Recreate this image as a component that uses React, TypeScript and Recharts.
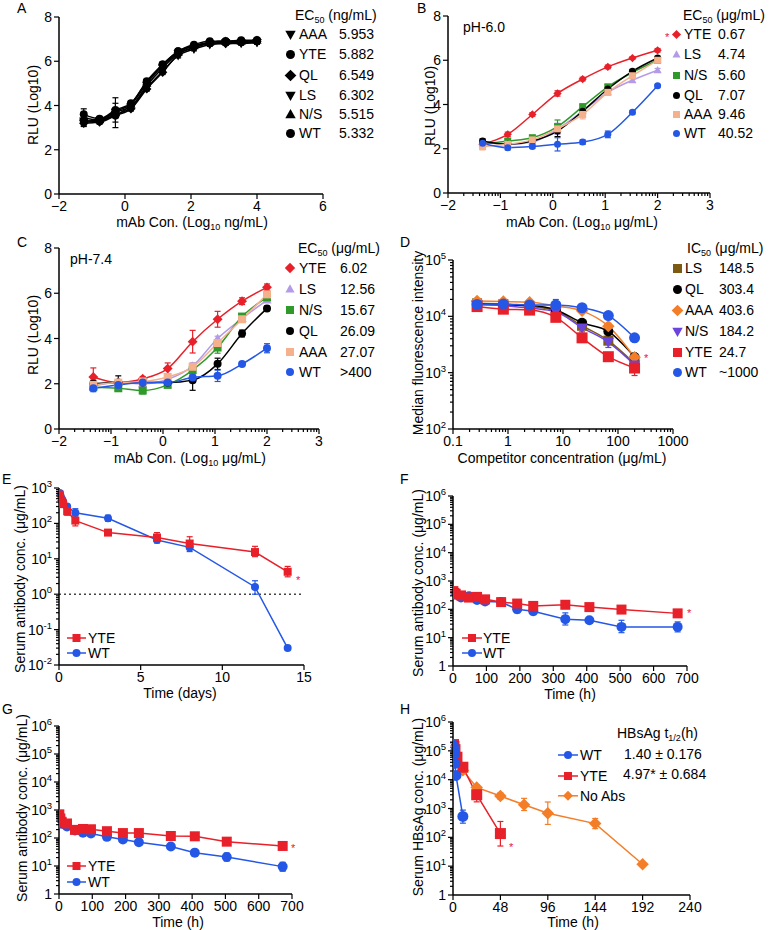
import React from "react";
import { ComposedChart, Line, XAxis, YAxis, ErrorBar, ReferenceLine } from "recharts";

const FONT = '"Liberation Sans", Arial, Helvetica, sans-serif';
const TS = 5;
const TM = 3;
const Y_W = 40;
const X_H = 25;

const RED = "#e8202a";
const BLUE = "#2457e6";
const GREEN = "#2f9a2a";
const LAVENDER = "#b39be8";
const PEACH = "#f5b08c";
const BLACK = "#000000";
const BROWN = "#7d5a12";
const PURPLE = "#6a44dd";
const ORANGE = "#f47d28";

// ---- A: RLU vs mAb conc (ng/mL) ----
const A_X = [-1.25, -0.77, -0.29, 0.18, 0.66, 1.14, 1.61, 2.09, 2.57, 3.05, 3.52, 4.0];
const A_AAA = [3.25, 3.3, 3.6, 3.9, 4.8, 5.55, 6.25, 6.55, 6.75, 6.8, 6.8, 6.85];
const A_YTE = [3.6, 3.4, 3.8, 4.1, 5.05, 5.85, 6.45, 6.75, 6.9, 6.9, 6.95, 6.95];
const A_QL = [3.2, 3.25, 3.55, 3.85, 4.75, 5.5, 6.3, 6.65, 6.8, 6.8, 6.85, 6.9];
const A_LS = [3.3, 3.3, 3.7, 3.95, 4.9, 5.7, 6.35, 6.6, 6.8, 6.85, 6.85, 6.85];
const A_NS = [3.45, 3.35, 3.75, 4.05, 5.0, 5.8, 6.4, 6.7, 6.85, 6.9, 6.9, 6.95];
const A_WT = [3.3, 3.35, 3.55, 4.05, 5.1, 5.85, 6.45, 6.7, 6.85, 6.9, 6.9, 6.95];
const A_ERR = [0.12, 0.1, 0.1, 0.1, 0.1, 0.1, 0.1, 0.08, 0.08, 0.08, 0.08, 0.08];
const A_ERR_BIG = [0.25, 0.1, 0.55, 0.12, 0.1, 0.1, 0.1, 0.08, 0.08, 0.08, 0.08, 0.08];
const A_EC50 = ["5.953", "5.882", "6.549", "6.302", "5.515", "5.332"];

// ---- B: pH 6.0 ----
const BC_X = [-1.34, -0.86, -0.39, 0.09, 0.57, 1.05, 1.52, 2.0];
const B_YTE = [2.2, 2.65, 3.55, 4.5, 5.15, 5.7, 6.1, 6.45];
const B_LS = [2.3, 2.2, 2.3, 2.9, 3.7, 4.55, 5.1, 5.55];
const B_NS = [2.2, 2.35, 2.5, 3.0, 3.9, 4.8, 5.45, 6.0];
const B_QL = [2.35, 2.2, 2.35, 2.8, 3.7, 4.7, 5.5, 6.1];
const B_AAA = [2.1, 2.2, 2.4, 2.9, 3.55, 4.55, 5.3, 6.0];
const B_WT = [2.25, 2.05, 2.1, 2.2, 2.3, 2.65, 3.65, 4.85];
const B_E_YTE = [0.08, 0.1, 0.08, 0.12, 0.08, 0.08, 0.06, 0.08];
const B_E_LS = [0.1, 0.08, 0.1, 0.25, 0.15, 0.1, 0.1, 0.08];
const B_E_NS = [0.1, 0.08, 0.08, 0.3, 0.12, 0.1, 0.08, 0.08];
const B_E_QL = [0.1, 0.08, 0.08, 0.25, 0.1, 0.08, 0.08, 0.08];
const B_E_AAA = [0.15, 0.1, 0.1, 0.2, 0.2, 0.12, 0.1, 0.1];
const B_E_WT = [0.1, 0.1, 0.08, 0.3, 0.1, 0.15, 0.08, 0.06];
const B_EC50 = ["0.67", "4.74", "5.60", "7.07", "9.46", "40.52"];

// ---- C: pH 7.4 ----
const C_YTE = [2.3, 2.05, 2.22, 2.67, 3.86, 4.85, 5.65, 6.26];
const C_LS = [1.9, 2.05, 2.0, 2.2, 2.78, 4.0, 4.88, 5.7];
const C_NS = [1.85, 1.8, 1.7, 1.95, 2.6, 3.6, 4.97, 5.82];
const C_QL = [2.0, 2.05, 2.05, 2.05, 2.16, 2.88, 4.22, 5.33];
const C_AAA = [1.95, 2.05, 2.1, 2.3, 2.75, 3.8, 4.85, 5.95];
const C_WT = [1.8, 1.95, 2.05, 2.05, 2.28, 2.35, 2.87, 3.57];
const C_E_YTE = [0.4, 0.1, 0.1, 0.25, 0.5, 0.35, 0.15, 0.15];
const C_E_LS = [0.1, 0.1, 0.1, 0.1, 0.15, 0.1, 0.1, 0.1];
const C_E_NS = [0.1, 0.1, 0.15, 0.12, 0.15, 0.25, 0.1, 0.15];
const C_E_QL = [0.15, 0.3, 0.1, 0.1, 0.45, 0.25, 0.15, 0.1];
const C_E_AAA = [0.1, 0.1, 0.1, 0.1, 0.15, 0.1, 0.1, 0.1];
const C_E_WT = [0.15, 0.2, 0.1, 0.1, 0.15, 0.25, 0.08, 0.2];
const C_EC50 = ["6.02", "12.56", "15.67", "26.09", "27.07", ">400"];

// ---- D: competition ----
const D_X = [0.274, 0.823, 2.47, 7.41, 22.2, 66.7, 200];
const D_LS = [17000, 16500, 15000, 12500, 6800, 3700, 1450];
const D_QL = [16500, 16000, 15500, 13000, 7700, 5400, 1900];
const D_AAA = [18700, 18300, 17800, 15300, 12500, 6700, 1870];
const D_NS = [16000, 15500, 14000, 12000, 6300, 3500, 1380];
const D_YTE = [14900, 13400, 12900, 9600, 4150, 1920, 1210];
const D_WT = [16300, 16500, 15900, 15900, 14200, 10300, 4150];
const D_E_LS: [number, number][] = [[1500, 1500], [1500, 1500], [1500, 1500], [1500, 1500], [800, 800], [500, 500], [200, 200]];
const D_E_QL: [number, number][] = [[1000, 1000], [1000, 1000], [1000, 1000], [1000, 1000], [700, 700], [600, 600], [200, 200]];
const D_E_AAA: [number, number][] = [[1500, 1500], [1500, 1500], [1500, 1500], [1500, 1500], [1000, 1000], [800, 800], [250, 250]];
const D_E_NS: [number, number][] = [[1500, 1500], [1500, 1500], [1500, 1500], [1500, 1500], [1000, 1000], [700, 700], [200, 200]];
const D_E_YTE: [number, number][] = [[1000, 1000], [1000, 1000], [1000, 1000], [800, 800], [400, 400], [250, 250], [320, 200]];
const D_E_WT: [number, number][] = [[1500, 1500], [2500, 2500], [2500, 2500], [3000, 4000], [1500, 1500], [1000, 1000], [400, 400]];
const D_IC50 = ["148.5", "303.4", "403.6", "184.2", "24.7", "~1000"];

// ---- E: PK (days) ----
const E_T = [0.042, 0.083, 0.167, 0.25, 0.5, 1, 3, 6, 8, 12, 14];
const E_YTE = [650, 500, 420, 350, 220, 120, 55, 40, 27, 15.5, 4.3];
const E_WT = [720, 620, 500, 420, 300, 200, 140, 34, 21, 1.6, 0.03];
const E_E_YTE: [number, number][] = [[80, 80], [60, 60], [50, 50], [40, 40], [50, 50], [35, 50], [5, 5], [12, 15], [8, 15], [4, 7], [1.2, 1.8]];
const E_E_WT: [number, number][] = [[60, 60], [50, 50], [50, 50], [40, 40], [30, 30], [40, 60], [25, 30], [5, 5], [5, 5], [0.6, 0.8], [0.002, 0.002]];

// ---- F: PK (h) ----
const F_T = [1, 4, 8, 24, 48, 72, 96, 144, 192, 240, 336, 408, 504, 672];
const F_YTE = [440, 380, 355, 310, 260, 275, 225, 180, 160, 132, 145, 120, 98, 72];
const F_WT = [390, 360, 330, 260, 290, 215, 190, 180, 100, 85, 45, 41, 24, 24];
const F_E_YTE: [number, number][] = [[40, 40], [30, 30], [30, 30], [25, 25], [20, 20], [20, 20], [20, 20], [15, 15], [15, 15], [12, 12], [20, 20], [12, 12], [10, 10], [8, 8]];
const F_E_WT: [number, number][] = [[40, 40], [30, 30], [30, 30], [25, 25], [20, 20], [20, 20], [15, 15], [20, 20], [25, 25], [20, 20], [17, 30], [5, 5], [9, 17], [8, 12]];

// ---- G: PK (h) ----
const G_T = [1, 4, 8, 24, 48, 72, 96, 144, 192, 240, 336, 408, 504, 672];
const G_YTE = [700, 500, 380, 330, 195, 210, 205, 175, 150, 150, 118, 115, 74, 52];
const G_WT = [500, 400, 320, 260, 185, 155, 145, 110, 88, 70, 50, 30, 21, 9.5];
const G_E_YTE: [number, number][] = [[60, 60], [40, 40], [30, 30], [30, 30], [20, 20], [20, 20], [20, 20], [20, 20], [15, 15], [15, 15], [12, 12], [25, 25], [18, 18], [8, 8]];
const G_E_WT: [number, number][] = [[50, 50], [40, 40], [30, 30], [25, 25], [15, 15], [12, 12], [12, 12], [10, 10], [8, 8], [6, 6], [5, 5], [3, 3], [6, 8], [3, 4]];

// ---- H: HBsAg (h) ----
const H_WT_T = [0.1, 0.5, 1, 1.5, 2, 3, 10];
const H_WT = [160000, 130000, 100000, 80000, 37000, 14000, 530];
const H_E_WT: [number, number][] = [[30000, 30000], [20000, 20000], [20000, 20000], [15000, 15000], [8000, 8000], [3000, 3000], [220, 350]];
const H_YTE_T = [0.5, 1, 2, 4, 10, 24, 48];
const H_YTE = [165000, 140000, 110000, 60000, 27000, 3000, 135];
const H_E_YTE: [number, number][] = [[30000, 30000], [25000, 25000], [20000, 20000], [15000, 15000], [8000, 8000], [1300, 1800], [85, 220]];
const H_NA_T = [10, 24, 48, 72, 96, 144, 192];
const H_NA = [21000, 5400, 2700, 1350, 680, 300, 11.7];
const H_E_NA: [number, number][] = [[3000, 3000], [1200, 1200], [600, 800], [500, 900], [400, 1000], [100, 150], [1, 1]];

type Shape = "circle" | "square" | "diamond" | "tri" | "triDown";
type Err = number | [number, number];
interface Series { key: string; color: string; shape: Shape; r: number; x: number[]; y: number[]; e: Err[] }

const mk = (key: string, color: string, shape: Shape, r: number, x: number[], y: number[], e: Err[]): Series =>
  ({ key, color, shape, r, x, y, e });

const rows = (s: Series) => s.x.map((x, i) => ({ x, y: s.y[i], e: s.e[i] }));

function Marker({ shape, cx, cy, r, color }: { shape: Shape; cx: number; cy: number; r: number; color: string }) {
  if (cx == null || cy == null) return null;
  if (shape === "circle") return <circle cx={cx} cy={cy} r={r} fill={color} />;
  if (shape === "square") return <rect x={cx - r} y={cy - r} width={2 * r} height={2 * r} fill={color} />;
  if (shape === "diamond") {
    const d = r * 1.3;
    return <polygon points={`${cx},${cy - d} ${cx + d},${cy} ${cx},${cy + d} ${cx - d},${cy}`} fill={color} />;
  }
  if (shape === "tri")
    return <polygon points={`${cx},${cy - r * 1.2} ${cx + r * 1.15},${cy + r * 0.85} ${cx - r * 1.15},${cy + r * 0.85}`} fill={color} />;
  return <polygon points={`${cx},${cy + r * 1.2} ${cx + r * 1.15},${cy - r * 0.85} ${cx - r * 1.15},${cy - r * 0.85}`} fill={color} />;
}

// axis helpers
const logTicks = (lo: number, hi: number) => {
  const out: number[] = [];
  for (let p = lo; p < hi; p++) for (let k = 1; k < 10; k++) out.push(k * Math.pow(10, p));
  out.push(Math.pow(10, hi));
  return out;
};
const decades = (lo: number, hi: number) => {
  const out: number[] = [];
  for (let p = lo; p <= hi; p++) out.push(Math.pow(10, p));
  return out;
};
const log10Minor = (lo: number, hi: number) => {
  const out: number[] = [];
  for (let n = lo; n < hi; n++) for (let k = 1; k < 10; k++) out.push(n + Math.log10(k));
  out.push(hi);
  return out;
};
const near = (a: number, b: number) => Math.abs(a - b) <= Math.abs(b) * 1e-6 + 1e-9;

const num = (v: number) => (v < 0 ? "\u2212" + Math.abs(v) : String(v));
const pow10 = (v: number) => {
  const p = Math.round(Math.log10(v));
  return (
    <>
      <tspan>10</tspan>
      <tspan dy={-6} fontSize={9.5}>{p < 0 ? "-" + -p : String(p)}</tspan>
    </>
  );
};
const pow10or1 = (v: number) => (near(v, 1) ? "1" : pow10(v));

interface AxisCfg { domain: [number, number]; ticks: number[]; major: number[]; log?: boolean; fmt: (v: number) => React.ReactNode }

function XTick(props: any) {
  const { x, y, payload, cfg } = props;
  const v = payload.value;
  const big = cfg.major.some((m: number) => near(v, m));
  const ay = y - TS - TM;
  return (
    <g>
      <line x1={x} x2={x} y1={ay} y2={ay + (big ? 5 : 3)} stroke="#000" strokeWidth={1.2} />
      {big && (
        <text x={x} y={ay + 17} textAnchor="middle" fontSize={14} fontFamily={FONT} fill="#000">
          {cfg.fmt(v)}
        </text>
      )}
    </g>
  );
}

function YTick(props: any) {
  const { x, y, payload, cfg } = props;
  const v = payload.value;
  const big = cfg.major.some((m: number) => near(v, m));
  const ax = x + TS + TM;
  return (
    <g>
      <line x1={ax} x2={ax - (big ? 5 : 3)} y1={y} y2={y} stroke="#000" strokeWidth={1.2} />
      {big && (
        <text x={ax - 7} y={y} dy="0.36em" textAnchor="end" fontSize={14} fontFamily={FONT} fill="#000">
          {cfg.fmt(v)}
        </text>
      )}
    </g>
  );
}

function Plot({ box, plot, xa, ya, series, curve = "linear", refY }: {
  box: number[]; plot: number[]; xa: AxisCfg; ya: AxisCfg; series: Series[]; curve?: "linear" | "monotone"; refY?: number;
}) {
  const [bx, by, bw, bh] = box;
  const [x1, x2, y1, y2] = plot;
  const margin = { top: y1 - by, left: x1 - bx - Y_W, right: bx + bw - x2, bottom: by + bh - y2 - X_H };
  return (
    <div style={{ position: "absolute", left: bx, top: by }}>
      <ComposedChart width={bw} height={bh} margin={margin}>
        <XAxis
          type="number" dataKey="x" scale={xa.log ? "log" : "linear"} domain={xa.domain} ticks={xa.ticks}
          interval={0} allowDataOverflow height={X_H} tickSize={TS} tickMargin={TM} tickLine={false}
          axisLine={{ stroke: "#000", strokeWidth: 1.5 }} tick={(p: any) => <XTick {...p} cfg={xa} />}
        />
        <YAxis
          type="number" scale={ya.log ? "log" : "linear"} domain={ya.domain} ticks={ya.ticks}
          interval={0} allowDataOverflow width={Y_W} tickSize={TS} tickMargin={TM} tickLine={false}
          axisLine={{ stroke: "#000", strokeWidth: 1.5 }} tick={(p: any) => <YTick {...p} cfg={ya} />}
        />
        {refY !== undefined && <ReferenceLine y={refY} stroke="#444" strokeWidth={1.5} strokeDasharray="2 3" />}
        {series.map((s) => (
          <Line
            key={s.key}
            name={s.key}
            data={rows(s)}
            dataKey="y"
            type={curve}
            stroke={s.color}
            strokeWidth={1.5}
            isAnimationActive={false}
            activeDot={false}
            dot={(p: any) => <Marker key={`${s.key}-${p.index}`} shape={s.shape} cx={p.cx} cy={p.cy} r={s.r} color={s.color} />}
          >
            <ErrorBar dataKey="e" direction="y" width={3} stroke={s.color} strokeWidth={1.2} isAnimationActive={false} />
          </Line>
        ))}
      </ComposedChart>
    </div>
  );
}

function Txt({ x, y, children, size = 14, align = "left", color = "#000", rotate = false }: any) {
  const tr = rotate ? "translate(-50%,-50%) rotate(-90deg)" : align === "center" ? "translate(-50%,-50%)" : "translateY(-50%)";
  return (
    <div style={{ position: "absolute", left: x, top: y, transform: tr, fontSize: size, fontFamily: FONT, color, lineHeight: 1, whiteSpace: "nowrap" }}>
      {children}
    </div>
  );
}

const Sub = ({ children }: any) => <span style={{ fontSize: 9, position: "relative", top: 3 }}>{children}</span>;

function Icon({ x, y, shape, color, r, line = 0 }: { x: number; y: number; shape: Shape; color: string; r: number; line?: number }) {
  const w = Math.max(line, 2 * r + 6);
  const h = 2 * r + 8;
  return (
    <svg style={{ position: "absolute", left: x - w / 2, top: y - h / 2 }} width={w} height={h}>
      {line > 0 && <line x1={0} x2={w} y1={h / 2} y2={h / 2} stroke={color} strokeWidth={1.5} />}
      <Marker shape={shape} cx={w / 2} cy={h / 2} r={r} color={color} />
    </svg>
  );
}

function Table({ series, values, rowsY, mx, nx, vx, r }: { series: Series[]; values: string[]; rowsY: number[]; mx: number; nx: number; vx: number; r: number }) {
  return (
    <>
      {series.map((s, i) => (
        <React.Fragment key={s.key}>
          <Icon x={mx} y={rowsY[i]} shape={s.shape} color={s.color} r={r} />
          <Txt x={nx} y={rowsY[i]}>{s.key}</Txt>
          <Txt x={vx} y={rowsY[i]}>{values[i]}</Txt>
        </React.Fragment>
      ))}
    </>
  );
}

// series
const aSeries = [
  mk("AAA", BLACK, "triDown", 4, A_X, A_AAA, A_ERR),
  mk("YTE", BLACK, "circle", 4, A_X, A_YTE, A_ERR_BIG),
  mk("QL", BLACK, "diamond", 3.6, A_X, A_QL, A_ERR),
  mk("LS", BLACK, "triDown", 4, A_X, A_LS, A_ERR),
  mk("N/S", BLACK, "tri", 4, A_X, A_NS, A_ERR),
  mk("WT", BLACK, "circle", 4, A_X, A_WT, A_ERR_BIG),
];
const bSeries = [
  mk("YTE", RED, "diamond", 3.2, BC_X, B_YTE, B_E_YTE),
  mk("LS", LAVENDER, "tri", 3.5, BC_X, B_LS, B_E_LS),
  mk("N/S", GREEN, "square", 3.5, BC_X, B_NS, B_E_NS),
  mk("QL", BLACK, "circle", 3.5, BC_X, B_QL, B_E_QL),
  mk("AAA", PEACH, "square", 3.5, BC_X, B_AAA, B_E_AAA),
  mk("WT", BLUE, "circle", 3.5, BC_X, B_WT, B_E_WT),
];
const cSeries = [
  mk("YTE", RED, "diamond", 3.8, BC_X, C_YTE, C_E_YTE),
  mk("LS", LAVENDER, "tri", 4, BC_X, C_LS, C_E_LS),
  mk("N/S", GREEN, "square", 4, BC_X, C_NS, C_E_NS),
  mk("QL", BLACK, "circle", 4, BC_X, C_QL, C_E_QL),
  mk("AAA", PEACH, "square", 4, BC_X, C_AAA, C_E_AAA),
  mk("WT", BLUE, "circle", 4, BC_X, C_WT, C_E_WT),
];
const dSeries = [
  mk("LS", BROWN, "square", 5, D_X, D_LS, D_E_LS),
  mk("QL", BLACK, "circle", 5, D_X, D_QL, D_E_QL),
  mk("AAA", ORANGE, "diamond", 4.8, D_X, D_AAA, D_E_AAA),
  mk("N/S", PURPLE, "triDown", 5, D_X, D_NS, D_E_NS),
  mk("YTE", RED, "square", 5.5, D_X, D_YTE, D_E_YTE),
  mk("WT", BLUE, "circle", 5.5, D_X, D_WT, D_E_WT),
];
const eSeries = [mk("WT", BLUE, "circle", 4, E_T, E_WT, E_E_WT), mk("YTE", RED, "square", 4, E_T, E_YTE, E_E_YTE)];
const fSeries = [mk("WT", BLUE, "circle", 5, F_T, F_WT, F_E_WT), mk("YTE", RED, "square", 5, F_T, F_YTE, F_E_YTE)];
const gSeries = [mk("WT", BLUE, "circle", 5, G_T, G_WT, G_E_WT), mk("YTE", RED, "square", 5, G_T, G_YTE, G_E_YTE)];
const hSeries = [
  mk("No Abs", ORANGE, "diamond", 4.8, H_NA_T, H_NA, H_E_NA),
  mk("YTE", RED, "square", 5.5, H_YTE_T, H_YTE, H_E_YTE),
  mk("WT", BLUE, "circle", 5.5, H_WT_T, H_WT, H_E_WT),
];

// axes
const axA_X: AxisCfg = { domain: [-2, 6], ticks: [-2, 0, 2, 4, 6], major: [-2, 0, 2, 4, 6], fmt: num };
const axRLU: AxisCfg = { domain: [0, 8], ticks: [0, 2, 4, 6, 8], major: [0, 2, 4, 6, 8], fmt: num };
const axBC_X: AxisCfg = { domain: [-2, 3], ticks: log10Minor(-2, 3), major: [-2, -1, 0, 1, 2, 3], fmt: num };
const axD_X: AxisCfg = { domain: [0.1, 1000], ticks: logTicks(-1, 3), major: decades(-1, 3), log: true, fmt: (v) => String(v) };
const axD_Y: AxisCfg = { domain: [100, 100000], ticks: logTicks(2, 5), major: decades(2, 5), log: true, fmt: pow10 };
const axE_X: AxisCfg = { domain: [0, 15], ticks: [0, 5, 10, 15], major: [0, 5, 10, 15], fmt: num };
const axE_Y: AxisCfg = { domain: [0.01, 1000], ticks: logTicks(-2, 3), major: decades(-2, 3), log: true, fmt: pow10 };
const axFG_X: AxisCfg = { domain: [0, 700], ticks: [0, 100, 200, 300, 400, 500, 600, 700], major: [0, 100, 200, 300, 400, 500, 600, 700], fmt: num };
const axPK_Y: AxisCfg = { domain: [1, 1000000], ticks: logTicks(0, 6), major: decades(0, 6), log: true, fmt: pow10or1 };
const axH_X: AxisCfg = { domain: [0, 240], ticks: [0, 48, 96, 144, 192, 240], major: [0, 48, 96, 144, 192, 240], fmt: num };

const LEG_ROWS_AB = [34, 54, 75, 95, 114, 133];
const LEG_ROWS_CD = [268, 289, 310, 331, 352, 372];

export default function App() {
  return (
    <div style={{ position: "absolute", left: 0, top: 0, width: 771, height: 930, background: "#fff", fontFamily: FONT }}>
      {/* A */}
      <Plot box={[0, 0, 385, 228]} plot={[59, 323, 17, 194]} xa={axA_X} ya={axRLU} series={aSeries} curve="monotone" />
      <Txt x={17} y={8}>A</Txt>
      <Txt x={295} y={15}>EC<Sub>50</Sub> (ng/mL)</Txt>
      <Table series={aSeries} values={A_EC50} rowsY={LEG_ROWS_AB} mx={290} nx={299} vx={339} r={4.5} />
      <Txt x={192} y={222} align="center">mAb Con. (Log<Sub>10</Sub> ng/mL)</Txt>
      <Txt x={33} y={105} rotate>RLU (Log10)</Txt>

      {/* B */}
      <Plot box={[385, 0, 386, 228]} plot={[448, 710, 16, 193]} xa={axBC_X} ya={axRLU} series={bSeries} curve="monotone" />
      <Txt x={417} y={8}>B</Txt>
      <Txt x={463} y={27}>pH-6.0</Txt>
      <Txt x={683} y={15}>EC<Sub>50</Sub> (μg/mL)</Txt>
      <Table series={bSeries} values={B_EC50} rowsY={LEG_ROWS_AB} mx={676} nx={684} vx={718} r={3.5} />
      <Txt x={665} y={37} color={RED} size={11}>*</Txt>
      <Txt x={582} y={222} align="center">mAb Con. (Log<Sub>10</Sub> μg/mL)</Txt>
      <Txt x={430} y={106} rotate>RLU (Log10)</Txt>

      {/* C */}
      <Plot box={[0, 228, 385, 232]} plot={[59, 319, 248, 429]} xa={axBC_X} ya={axRLU} series={cSeries} curve="monotone" />
      <Txt x={17} y={242}>C</Txt>
      <Txt x={70} y={259}>pH-7.4</Txt>
      <Txt x={298} y={248}>EC<Sub>50</Sub> (μg/mL)</Txt>
      <Table series={cSeries} values={C_EC50} rowsY={LEG_ROWS_CD} mx={290} nx={299} vx={340} r={4} />
      <Txt x={190} y={458} align="center">mAb Con. (Log<Sub>10</Sub> μg/mL)</Txt>
      <Txt x={33} y={335} rotate>RLU (Log10)</Txt>

      {/* D */}
      <Plot box={[385, 228, 386, 232]} plot={[453, 673, 260, 429]} xa={axD_X} ya={axD_Y} series={dSeries} curve="monotone" />
      <Txt x={400} y={242}>D</Txt>
      <Txt x={687} y={248}>IC<Sub>50</Sub> (μg/mL)</Txt>
      <Table series={dSeries} values={D_IC50} rowsY={LEG_ROWS_CD} mx={677} nx={685} vx={719} r={4.5} />
      <Txt x={644} y={358} color={RED} size={11}>*</Txt>
      <Txt x={562} y={458} align="center">Competitor concentration (μg/mL)</Txt>
      <Txt x={418} y={343} rotate>Median fluorescence intensity</Txt>

      {/* E */}
      <Plot box={[0, 462, 385, 230]} plot={[59, 304, 488, 665]} xa={axE_X} ya={axE_Y} series={eSeries} refY={1} />
      <Txt x={2} y={479}>E</Txt>
      <Icon x={76} y={638} shape="square" color={RED} r={4} line={19} />
      <Txt x={88} y={638}>YTE</Txt>
      <Icon x={76} y={653} shape="circle" color={BLUE} r={4} line={19} />
      <Txt x={88} y={653}>WT</Txt>
      <Txt x={296} y={580} color={RED} size={11}>*</Txt>
      <Txt x={180} y={693} align="center">Time (days)</Txt>
      <Txt x={20} y={579} rotate>Serum antibody conc. (μg/mL)</Txt>

      {/* F */}
      <Plot box={[385, 462, 386, 230]} plot={[453, 687, 496, 666]} xa={axFG_X} ya={axPK_Y} series={fSeries} />
      <Txt x={400} y={479}>F</Txt>
      <Icon x={472} y={638} shape="square" color={RED} r={4} line={20} />
      <Txt x={483} y={638}>YTE</Txt>
      <Icon x={472} y={653} shape="circle" color={BLUE} r={4} line={20} />
      <Txt x={483} y={653}>WT</Txt>
      <Txt x={687} y={613} color={RED} size={11}>*</Txt>
      <Txt x={570} y={694} align="center">Time (h)</Txt>
      <Txt x={418} y={583} rotate>Serum antibody conc. (μg/mL)</Txt>

      {/* G */}
      <Plot box={[0, 698, 385, 232]} plot={[59, 292, 726, 894]} xa={axFG_X} ya={axPK_Y} series={gSeries} />
      <Txt x={2} y={709}>G</Txt>
      <Icon x={76} y={866} shape="square" color={RED} r={4} line={19} />
      <Txt x={88} y={866}>YTE</Txt>
      <Icon x={76} y={882} shape="circle" color={BLUE} r={4} line={19} />
      <Txt x={88} y={882}>WT</Txt>
      <Txt x={291} y={848} color={RED} size={11}>*</Txt>
      <Txt x={178} y={922} align="center">Time (h)</Txt>
      <Txt x={22} y={808} rotate>Serum antibody conc. (μg/mL)</Txt>

      {/* H */}
      <Plot box={[385, 698, 386, 232]} plot={[453, 690, 722, 895]} xa={axH_X} ya={axPK_Y} series={hSeries} />
      <Txt x={400} y={709}>H</Txt>
      <Icon x={568} y={755} shape="circle" color={BLUE} r={4} line={20} />
      <Txt x={580} y={755}>WT</Txt>
      <Icon x={568} y={776} shape="square" color={RED} r={4} line={20} />
      <Txt x={580} y={776}>YTE</Txt>
      <Icon x={568} y={796} shape="diamond" color={ORANGE} r={3.8} line={20} />
      <Txt x={580} y={796}>No Abs</Txt>
      <Txt x={617} y={733}>HBsAg t<Sub>1/2</Sub>(h)</Txt>
      <Txt x={624} y={754}>1.40 ± 0.176</Txt>
      <Txt x={623} y={774}>4.97* ± 0.684</Txt>
      <Txt x={509} y={847} color={RED} size={11}>*</Txt>
      <Txt x={573} y={922} align="center">Time (h)</Txt>
      <Txt x={418} y={807} rotate>Serum HBsAg conc. (μg/mL)</Txt>
    </div>
  );
}
